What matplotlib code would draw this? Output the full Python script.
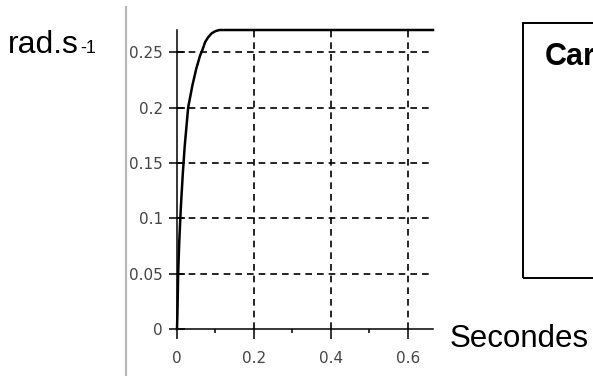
import matplotlib
matplotlib.use('Agg')
import matplotlib.pyplot as plt
from matplotlib.lines import Line2D
from matplotlib.patches import Rectangle

# speed response (rad/s vs seconds)
temps = [0, 0.001, 0.003, 0.006, 0.01, 0.015, 0.02, 0.029, 0.04, 0.05,
         0.06, 0.066, 0.073, 0.08, 0.09, 0.1, 0.11, 0.13, 0.2, 0.4, 0.665]
vitesse = [0, 0.012, 0.05, 0.08, 0.11, 0.14, 0.165, 0.2, 0.22, 0.235,
           0.247, 0.252, 0.259, 0.263, 0.267, 0.269, 0.27, 0.27, 0.27, 0.27, 0.27]

yticks = [0, 0.05, 0.1, 0.15, 0.2, 0.25]
ytick_labels = ['0', '0.05', '0.1', '0.15', '0.2', '0.25']
xticks = [0, 0.2, 0.4, 0.6]
xtick_labels = ['0', '0.2', '0.4', '0.6']
xminor = [0.1, 0.3, 0.5]

plt.rcParams['font.family'] = ['Liberation Sans', 'DejaVu Sans']

fig = plt.figure(figsize=(5.93, 3.76), dpi=100)
ax = fig.add_axes([177/593, 47/376, 256/593, 299/376])

ax.plot(temps, vitesse, color='black', lw=1.8, clip_on=False, zorder=3)
ax.set_xlim(0, 0.665)
ax.set_ylim(0, 0.27)

for v in yticks[1:]:
    ax.axhline(v, color='black', lw=1.2, ls=(0, (4, 3)), zorder=1)
for v in xticks[1:]:
    ax.axvline(v, color='black', lw=1.2, ls=(0, (4, 3)), zorder=1)

ax.set_yticks(yticks)
ax.set_yticklabels(ytick_labels, family='DejaVu Sans', fontsize=11, color='#444444')
ax.set_xticks(xticks)
ax.set_xticklabels(xtick_labels, family='DejaVu Sans', fontsize=11, color='#444444')
ax.set_xticks(xminor, minor=True)
ax.tick_params(axis='y', direction='inout', length=12, width=1.1, pad=4)
ax.tick_params(axis='x', which='major', direction='out', length=7, width=1.1, pad=9)
ax.tick_params(axis='x', which='minor', direction='out', length=3, width=1.1)

for s in ['top', 'right']:
    ax.spines[s].set_visible(False)
for s in ['left', 'bottom']:
    ax.spines[s].set_linewidth(1.1)

# gray separator on the left
fig.add_artist(Line2D([126/593, 126/593], [0, 369/376], transform=fig.transFigure,
                      color='#b8b8b8', lw=1.6))

# box on the right, cut by the edge
fig.add_artist(Rectangle((523/593, 98/376), 0.2, 255/376, transform=fig.transFigure,
                         fill=False, edgecolor='black', lw=1.4))

fig.text(8/593, 323/376, 'rad.s', fontsize=23, va='baseline')
fig.text(80/593, 323/376, '-1', fontsize=13, va='baseline')
fig.text(450/593, 29/376, 'Secondes', fontsize=22.5, va='baseline')
fig.text(545/593, 311/376, 'Car', fontsize=22, fontweight='bold', va='baseline')

fig.savefig('out.png', dpi=100)
